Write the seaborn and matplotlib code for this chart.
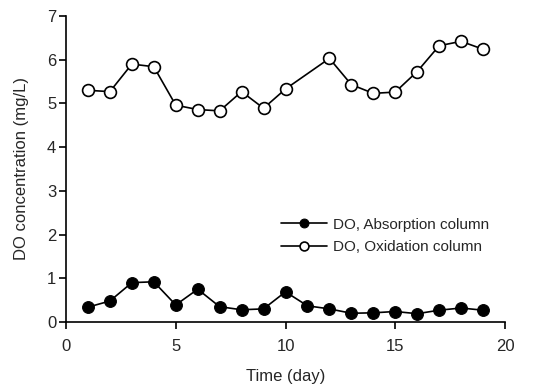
import pandas as pd
import matplotlib
matplotlib.use("Agg")
import matplotlib.pyplot as plt
import seaborn as sns

sns.set_style("ticks")
plt.rcParams["font.family"] = ["Liberation Sans", "DejaVu Sans"]

# DO data
days_abs = list(range(1, 20))
do_abs = [0.34, 0.48, 0.90, 0.92, 0.39, 0.75, 0.35, 0.28, 0.30, 0.69,
          0.37, 0.30, 0.20, 0.21, 0.24, 0.19, 0.27, 0.32, 0.27]

days_ox = [1, 2, 3, 4, 5, 6, 7, 8, 9, 10, 12, 13, 14, 15, 16, 17, 18, 19]
do_ox = [5.30, 5.27, 5.90, 5.84, 4.96, 4.86, 4.83, 5.27, 4.89, 5.33,
         6.03, 5.43, 5.23, 5.26, 5.73, 6.32, 6.42, 6.24]

fig = plt.figure(figsize=(5.49, 3.88), dpi=100)
ax = fig.add_axes([66 / 549, 66 / 388, 439 / 549, 306 / 388])

sns.lineplot(x=days_abs, y=do_abs, ax=ax, color="black", lw=1.2,
             marker="o", markersize=8.5, markerfacecolor="black",
             markeredgecolor="black", label="DO, Absorption column")
sns.lineplot(x=days_ox, y=do_ox, ax=ax, color="black", lw=1.2,
             marker="o", markersize=8.5, markerfacecolor="white",
             markeredgecolor="black", markeredgewidth=1.2,
             label="DO, Oxidation column")

ax.set_xlim(0, 20)
ax.set_ylim(0, 7)
ax.set_xticks([0, 5, 10, 15, 20])
ax.set_yticks(range(0, 8))
ax.set_xlabel("Time (day)", fontsize=12, labelpad=11)
ax.set_ylabel("DO concentration (mg/L)", fontsize=12, labelpad=13)
ax.tick_params(labelsize=12, width=1.2, length=5, color="black")
ax.tick_params(axis="x", pad=7)
ax.tick_params(axis="y", pad=2)
for s in ["left", "bottom"]:
    ax.spines[s].set_color("black")
    ax.spines[s].set_linewidth(1.2)
sns.despine(ax=ax)

ax.legend(loc="center left", bbox_to_anchor=((281 - 66) / 439, 0.281),
          frameon=False, fontsize=11, handlelength=3.0, handletextpad=0.4,
          labelspacing=0.55, borderpad=0, borderaxespad=0, markerscale=0.75)

fig.savefig("out.png", dpi=100)
